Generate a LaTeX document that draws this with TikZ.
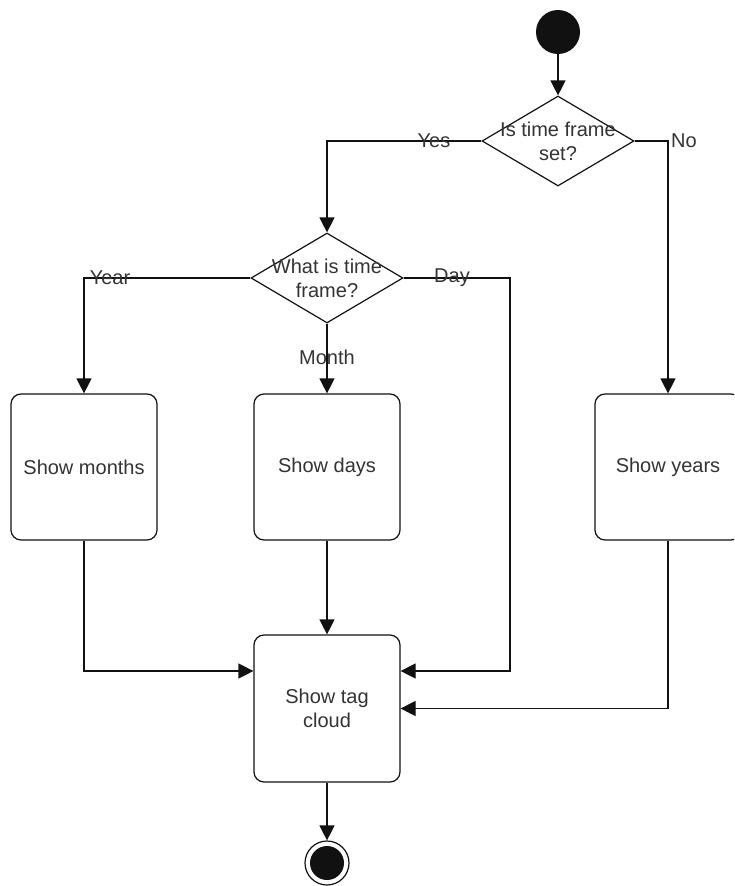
\documentclass[tikz,border=0pt]{standalone}
\usepackage{fontspec}
\setmainfont{Liberation Sans}
\usetikzlibrary{arrows.meta,shapes.geometric}
\definecolor{ink}{HTML}{111111}
\definecolor{txt}{HTML}{333333}
\newcommand{\txtsize}[0]{\fontsize{20}{24}\selectfont}
\tikzset{epais/.style={line width=1.2pt}}

\begin{document}
\begin{tikzpicture}[x=1pt,y=-1pt,
	every node/.style={font=\txtsize,text=txt},
	activity/.style={draw=ink,epais,rectangle,rounded corners=10pt,minimum width=146pt,minimum height=146pt,align=center},
	choice/.style={draw=ink,epais,diamond,minimum width=152pt,minimum height=90pt,inner xsep=-30pt,inner ysep=-20pt,align=center},
	arr/.style={draw=ink,epais,-{Triangle[width=15pt,length=15pt]}},
	lbl/.style={inner sep=0pt}]
%
	\path[use as bounding box,clip] (0,0) rectangle (734,886);
%
	\node[circle,fill=ink,minimum size=44pt,inner sep=0pt] (start) at (558,32) {};
	\node[choice] (q1) at (558,141) {Is time frame\\set?};
	\node[choice] (q2) at (327,278) {What is time\\frame?};
%
	\node[activity] (months) at (84,467) {Show months};
	\node[activity] (days) at (327,467) {Show days};
	\node[activity] (years) at (668,467) {Show years};
	\node[activity,minimum height=147pt] (cloud) at (327,708.5) {Show tag\\cloud};
%
	\node[circle,draw=ink,epais,minimum size=44pt,inner sep=0pt] (stop) at (327,863) {};
	\fill[ink] (stop) circle (17);
%
	\coordinate (dayc) at (510,671);
%
	\draw[arr] (start) -- (q1.north);
	\draw[arr] (q1.west) -| (q2.north);
	\draw[arr] (q1.east) -| (years.north);
	\draw[arr] (q2.west) -| (months.north);
	\draw[arr] (q2.south) -- (days.north);
	\draw[arr] (q2.east) -| (dayc) -- (dayc -| cloud.east);
	\draw[arr] (months.south) |- (cloud.west |- dayc);
	\draw[arr] (days.south) -- (cloud.north);
	\draw[arr] (years.south) |- (cloud.east);
	\draw[arr] (cloud.south) -- (stop.north);
%
	\node[lbl] (yes) at (434,141) {Yes};
	\node[lbl,anchor=west] (no) at (671,141) {No};
	\node[lbl] (year) at (110,278) {Year};
	\node[lbl] (day) at (452,278) {Day};
	\node[lbl] (month) at (327,357) {Month};
%
\end{tikzpicture}
\end{document}
